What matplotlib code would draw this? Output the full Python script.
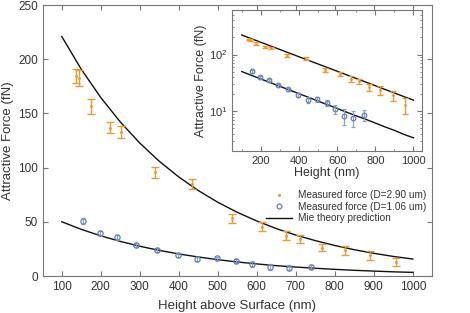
import matplotlib
matplotlib.use('Agg')
import matplotlib.pyplot as plt
from matplotlib.lines import Line2D

plt.rcParams['font.family'] = ['Liberation Sans', 'DejaVu Sans']

# measured force, D = 2.90 um
h_big = [137, 144, 176, 223, 253, 339, 435, 537, 613, 674, 712, 768, 825, 891, 958]
f_big = [184.5, 182.6, 156.5, 137, 133, 95.7, 84.6, 53.2, 45.5, 37.4, 34, 26.3, 23.7, 19.1, 13.1]
e_big = [6.5, 7, 7, 5.5, 5.5, 5, 4.5, 4, 4, 4, 3.5, 3.5, 4, 4, 4]

# measured force, D = 1.06 um
h_small = [154, 198, 242, 290, 343, 397, 448, 497, 547, 589, 635, 683, 739]
f_small = [50.7, 39.4, 35.7, 28.6, 24.3, 19.4, 15.7, 16.3, 14.1, 10.8, 8.3, 7.7, 8.6]
e_small = [2.5, 2, 2, 1.8, 1.8, 1.8, 2, 1.5, 1.8, 2, 2.5, 2.5, 2]

# Mie theory curves
h_mie = [100, 150, 200, 250, 300, 350, 400, 450, 500, 550,
         600, 650, 700, 750, 800, 850, 900, 950, 1000]
mie_big = [221.0, 190.8, 164.7, 142.2, 122.7, 105.9, 91.4, 78.9, 68.1, 58.8,
           50.8, 43.8, 37.8, 32.7, 28.2, 24.3, 21.0, 18.1, 15.7]
mie_small = [50.1, 43.1, 37.1, 32.0, 27.5, 23.7, 20.4, 17.6, 15.1, 13.0,
             11.2, 9.6, 8.3, 7.2, 6.2, 5.3, 4.6, 3.9, 3.4]

orange = '#EC9A35'
blue = '#6580B8'
txt = '#333333'
spine = '#777777'


def style(ax, fs):
    for s in ax.spines.values():
        s.set_color(spine)
        s.set_linewidth(0.8)
    ax.tick_params(which='both', direction='in', top=True, right=True,
                   colors=spine, labelcolor=txt, labelsize=fs)


def draw(ax, ms_o, ms_b, lw, cap):
    ax.plot(h_mie, mie_big, color='#111111', lw=lw, zorder=3)
    ax.plot(h_mie, mie_small, color='#111111', lw=lw, zorder=3)
    ax.errorbar(h_big, f_big, yerr=e_big, fmt='.', color=orange, ms=ms_o,
                capsize=cap, elinewidth=1.0, capthick=1.0, zorder=4)
    ax.errorbar(h_small, f_small, yerr=e_small, fmt='o', mfc='none', mec=blue,
                ecolor='#8fa3cc', ms=ms_b, mew=0.9, capsize=1.5,
                elinewidth=0.9, zorder=4)


fig = plt.figure(figsize=(4.7, 3.13), dpi=100)
ax = fig.add_axes([0.0915, 0.118, 0.8275, 0.866])
draw(ax, 2.2, 3.8, 1.0, 3)
ax.set_xlim(52, 1049)
ax.set_ylim(0, 250)
ax.set_xticks(range(100, 1001, 100))
ax.set_yticks(range(0, 251, 50))
style(ax, 8.5)
ax.set_xlabel('Height above Surface (nm)', fontsize=9.5, color=txt, labelpad=5)
ax.set_ylabel('Attractive Force (fN)', fontsize=9.5, color=txt, labelpad=3)

handles = [Line2D([], [], ls='none', marker='.', ms=2.5, color=orange),
           Line2D([], [], ls='none', marker='o', mfc='none', mec=blue, ms=3.5, mew=0.9),
           Line2D([], [], color='#111111', lw=1.0)]
labels = ['Measured force (D=2.90 um)', 'Measured force (D=1.06 um)',
          'Mie theory prediction']
leg = ax.legend(handles, labels, loc='upper left', bbox_to_anchor=(0.56, 0.335),
                frameon=False, fontsize=7.2, handlelength=2.6, handletextpad=0.6,
                labelspacing=0.15, borderpad=0)
for t in leg.get_texts():
    t.set_color(txt)

ins = fig.add_axes([0.494, 0.518, 0.404, 0.45])
ins.set_facecolor('white')
draw(ins, 2.0, 3.3, 1.0, 2)
ins.set_yscale('log')
ins.set_xlim(50, 1045)
ins.set_ylim(2, 610)
ins.set_xticks(range(200, 1001, 200))
ins.set_xticks(range(100, 1001, 100), minor=True)
ins.tick_params(which='minor', length=1.5)
style(ins, 8)
ins.set_xlabel('Height (nm)', fontsize=9, color=txt, labelpad=1)
ins.set_ylabel('Attractive Force (fN)', fontsize=9, color=txt, labelpad=1)

fig.savefig('out.png', dpi=100)
